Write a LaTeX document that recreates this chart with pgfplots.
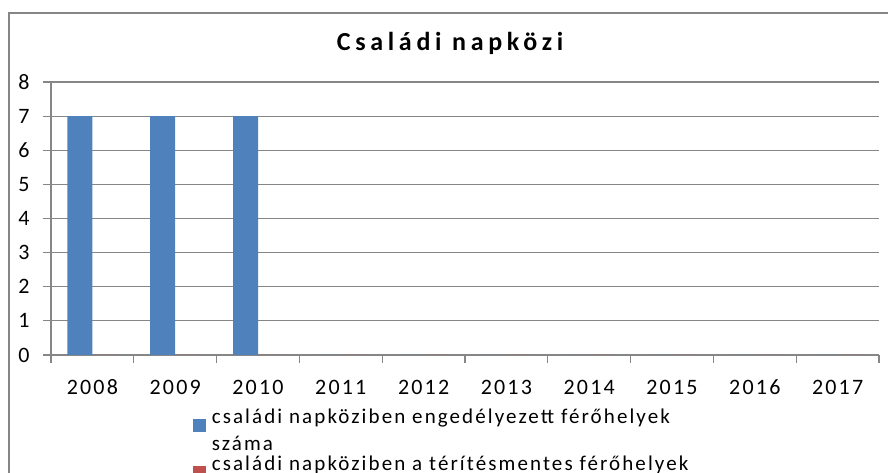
\documentclass[border=0pt]{standalone}
\usepackage{pgfplots}
\pgfplotsset{compat=1.18}
\usepackage{fontspec}
\setmainfont{Carlito}[LetterSpace=10]
\newfontfamily\titlefont{Carlito}[LetterSpace=18]
\definecolor{bblue}{HTML}{4F81BD}
\definecolor{bred}{HTML}{C0504D}
\definecolor{gline}{HTML}{868686}
\begin{document}
\begin{tikzpicture}[x=1pt,y=1pt]
\useasboundingbox (0,0) rectangle (888,473);
\clip (0,0) rectangle (888,473);
\draw[gline, line width=1.3pt] (9,460) rectangle (950,-50);
\node[font=\fontsize{26}{30}\selectfont\titlefont\bfseries, anchor=base] at (450,422) {Családi napközi};
\begin{axis}[
  at={(51pt,118pt)}, anchor=south west,
  scale only axis, width=828pt, height=273pt,
  xmin=-0.5, xmax=9.5, ymin=0, ymax=8,
  ybar=0pt, bar width=25pt,
  axis lines*=left,
  axis line style={gline, line width=1.2pt},
  ymajorgrids, grid style={gline, line width=1.2pt},
  tick align=outside, major tick length=8pt,
  tick style={gline, line width=1.2pt},
  ytick={0,...,8},
  xtick={-0.5,0.5,...,9.5}, xticklabels={},
  extra x ticks={0,1,2,3,4,5,6,7,8,9},
  extra x tick labels={2008,2009,2010,2011,2012,2013,2014,2015,2016,2017},
  extra x tick style={major tick length=0pt},
  /pgf/number format/assume math mode=true,
  ticklabel style={font=\fontsize{22}{26}\selectfont, text=black},
  yticklabel style={xshift=-10pt},
  xticklabel style={anchor=base, yshift=-40pt},
  legend style={at={(axis description cs:0.171,-0.19)}, anchor=north west,
    draw=none, fill=none, inner sep=0pt,
    font=\fontsize{21}{27}\selectfont,
    cells={anchor=west, align=left},
    /tikz/every odd column/.append style={column sep=4pt},
    row sep=0pt},
  legend image code/.code={\fill[#1] (0pt,-1pt) rectangle (13pt,12pt);},
]
\addplot[fill=bblue, draw=none] coordinates {(0,7) (1,7) (2,7) (3,0) (4,0) (5,0) (6,0) (7,0) (8,0) (9,0)};
\addlegendentry{családi napköziben engedélyezett férőhelyek\\száma}
\addplot[fill=bred, draw=none] coordinates {(0,0) (1,0) (2,0) (3,0) (4,0) (5,0) (6,0) (7,0) (8,0) (9,0)};
\addlegendentry{családi napköziben a térítésmentes férőhelyek\\száma}
\end{axis}
\end{tikzpicture}
\end{document}
